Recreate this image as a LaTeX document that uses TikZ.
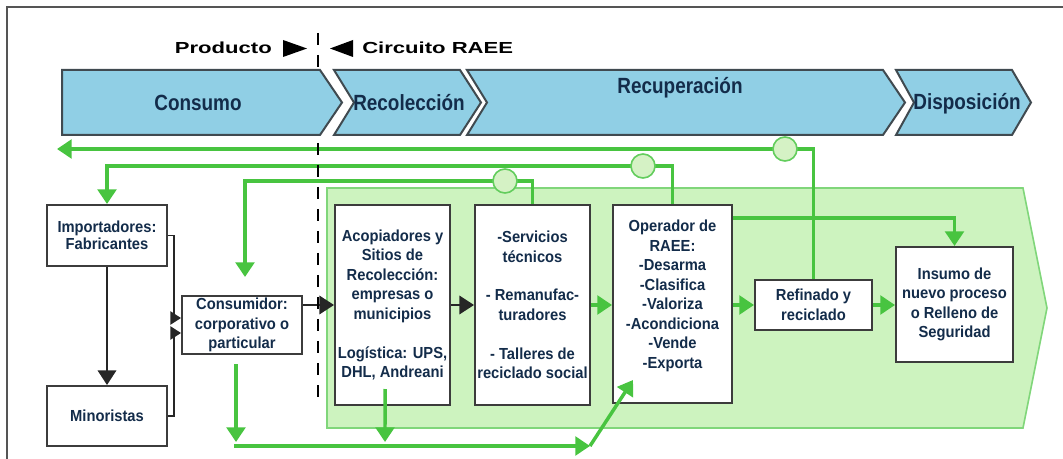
\documentclass[tikz,border=0pt]{standalone}
\usepackage{fontspec}
\setmainfont{Liberation Sans}
\newfontfamily\boxfont[FakeStretch=0.92]{Liberation Sans}
\newfontfamily\bannerfont[FakeStretch=0.86]{Liberation Sans}
\newfontfamily\headfont[FakeStretch=1.38]{Liberation Sans}
\usetikzlibrary{arrows.meta}
\definecolor{bannerblue}{HTML}{90CFE5}
\definecolor{bannerline}{HTML}{404A50}
\definecolor{navy}{HTML}{132C4A}
\definecolor{gcol}{HTML}{48C440}
\definecolor{regfill}{HTML}{CDF3BF}
\definecolor{regline}{HTML}{80D67A}
\definecolor{circfill}{HTML}{D5F2C5}
\definecolor{boxline}{HTML}{3C3C3C}
\definecolor{framegray}{HTML}{555555}
\tikzset{
  box/.style={draw=boxline, line width=1.5pt, fill=white, inner sep=0pt, align=center,
    font=\boxfont\bfseries\fontsize{12}{14.6}\selectfont, text=navy},
  gconn/.style={draw=gcol, line width=2.6pt},
  gtip/.style={-{Triangle[length=11pt,width=14pt]}},
  bconn/.style={draw=black!85, line width=1.1pt, -{Triangle[length=11pt,width=14pt]}},
  bline/.style={draw=black!85, line width=1.1pt, -{Triangle[length=8pt,width=10pt]}},
  banner/.style={fill=bannerblue, draw=bannerline, line width=1.5pt, line join=miter},
  btext/.style={font=\bannerfont\bfseries\fontsize{16.5}{18}\selectfont, text=navy, inner sep=0pt},
  head/.style={font=\headfont\bfseries\fontsize{12}{14}\selectfont, inner sep=0pt},
  circ/.style={circle, minimum size=18pt, inner sep=0pt, fill=circfill, draw=gcol!85, line width=1.2pt}
}
\begin{document}
\begin{tikzpicture}[x=0.75pt,y=-0.75pt]
\useasboundingbox (0,0) rectangle (1063,459);
% frame
\draw[draw=framegray, line width=1.6pt] (7,459) -- (7,7) -- (1063,7);
% green region
\filldraw[fill=regfill, draw=regline, line width=1.2pt] (327,188) -- (1023,188) -- (1047,308) -- (1023,428) -- (327,428) -- cycle;
% boxes
\node[box, minimum width=90pt, minimum height=45.75pt, font=\boxfont\bfseries\fontsize{12}{12.5}\selectfont] (imp) at (107,235.5) {Importadores:\\Fabricantes};
\node[box, minimum width=90pt, minimum height=45pt] (mino) at (107,416) {Minoristas};
\node[box, minimum width=90pt, minimum height=43.5pt] (cons) at (242,325) {Consumidor:\\corporativo o\\particular};
\node[box, minimum width=86.25pt, minimum height=150pt] (acop) at (392.5,305) {Acopiadores y\\Sitios de\\Recolección:\\empresas o\\municipios\\~\\Logística: UPS,\\DHL, Andreani};
\node[box, minimum width=86.25pt, minimum height=150pt] (serv) at (532.5,305) {-Servicios\\técnicos\\~\\- Remanufac-\\turadores\\~\\- Talleres de\\reciclado social};
\node[box, minimum width=89.25pt, minimum height=148.5pt] (oper) at (672.5,304) {Operador de\\RAEE:\\-Desarma\\-Clasifica\\-Valoriza\\-Acondiciona\\-Vende\\-Exporta\\~};
\node[box, minimum width=87.75pt, minimum height=37.5pt] (ref) at (813.5,305) {Refinado y\\reciclado};
\node[box, minimum width=87.75pt, minimum height=86.25pt] (ins) at (954.5,304.5) {Insumo de\\nuevo proceso\\o Relleno de\\Seguridad};
% black connectors
\draw[bconn] (imp.south) -- (mino.north);
\coordinate (bk1) at (174,318);
\coordinate (bk2) at (174,333);
\draw[bline] (imp.east) -| (bk1) -- (cons.west |- bk1);
\draw[bline] (mino.east) -| (bk2) -- (cons.west |- bk2);
\draw[bconn] (cons.east |- 0,305) -- (acop.west |- 0,305);
\draw[bconn] (acop.east) -- (serv.west);
% green connectors
\draw[gconn,gtip] (serv.east) -- (oper.west |- serv.east);
\draw[gconn,gtip] (oper.east |- ref.west) -- (ref.west);
\draw[gconn,gtip] (ref.east) -- (ins.west |- ref.east);
\draw[gconn,gtip] (oper.east |- 0,218) -| (ins.north);
\coordinate (aEnd) at (57,149);
\draw[gconn,gtip] (ref.north) |- (aEnd);
\draw[gconn,gtip] (oper.north) |- (imp.north |- 0,166) -- (imp.north);
\coordinate (cTip) at (245,277);
\draw[gconn,gtip] (serv.north) |- (cTip |- 0,181) -- (cTip);
\coordinate (bL) at (236,446);
\coordinate (bR) at (590,446);
\coordinate (dTip) at (633,380);
\coordinate (aD) at (385,442);
\draw[gconn,gtip] ([xshift=-4.5pt,yshift=-6.75pt]cons.south) -- ([yshift=3pt]bL);
\draw[gconn,gtip] ([xshift=-1.3pt]bL) -- (bR);
\draw[gconn,gtip] (bR) -- (dTip);
\draw[gconn,gtip] ([xshift=-5.6pt,yshift=12.75pt]acop.south) -- (aD);
% dashed divider
\draw[line width=2.2pt, dash pattern=on 9pt off 7.5pt] (318,33) -- (318,403);
% banner
\filldraw[banner] (62,70) -- (320,70) -- (342,102.5) -- (320,135) -- (62,135) -- cycle;
\filldraw[banner] (334,70) -- (460,70) -- (481,102.5) -- (460,135) -- (334,135) -- (354,102.5) -- cycle;
\filldraw[banner] (467,70) -- (883,70) -- (905,102.5) -- (883,135) -- (467,135) -- (487,102.5) -- cycle;
\filldraw[banner] (896,70) -- (1012,70) -- (1031,102.5) -- (1012,135) -- (896,135) -- (914,102.5) -- cycle;
\node[btext] (tcons) at (198,103) {Consumo};
\node[btext] (trec) at (409,103) {Recolección};
\node[btext] (trecup) at (680,88) {Recuperación};
\node[btext] (tdisp) at (967,104) {Disposición};
% circles
\node[circ] (c1) at (505,181) {};
\node[circ] (c2) at (643,166) {};
\node[circ] (c3) at (785,149) {};
% header
\node[head, anchor=east] (hprod) at (272,48) {Producto};
\node[head, anchor=west] (hcirc) at (362,48) {Circuito RAEE};
\fill (283,40) -- (307,48.5) -- (283,57) -- cycle;
\fill (353,40) -- (330,48.5) -- (353,57) -- cycle;
\end{tikzpicture}
\end{document}
